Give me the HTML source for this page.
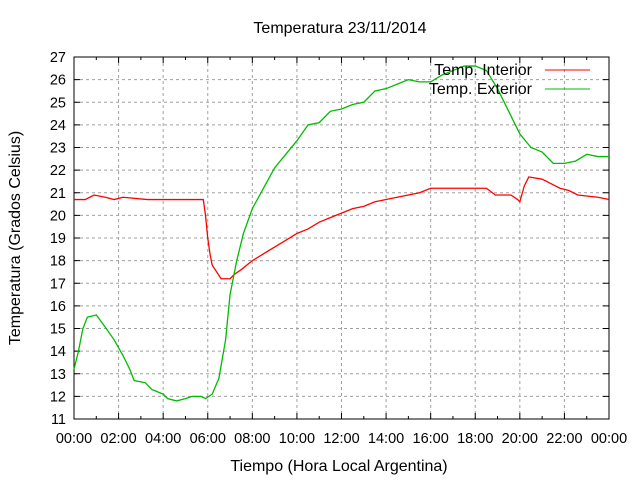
<!DOCTYPE html>
<html><head><meta charset="utf-8"><style>
html,body{margin:0;padding:0;background:#fff;}
svg{display:block;font-family:"Liberation Sans",sans-serif;}
</style></head><body>
<svg id="chart" width="640" height="480">
<text x="340" y="33" font-size="16" text-anchor="middle">Temperatura 23/11/2014</text>
<text x="339" y="471" font-size="16" text-anchor="middle">Tiempo (Hora Local Argentina)</text>
<text x="20" y="238" font-size="16" text-anchor="middle" transform="rotate(-90 20 238)">Temperatura (Grados Celsius)</text>
<g id="grid"></g><g id="axes"></g><g id="series"></g>
<g>
<text x="532" y="75" font-size="16" text-anchor="end">Temp. Interior</text>
<line x1="545" y1="70" x2="590" y2="70" stroke="#ff0000"/>
<text x="532" y="94" font-size="16" text-anchor="end">Temp. Exterior</text>
<line x1="545" y1="89" x2="590" y2="89" stroke="#00bb00"/>
</g>
</svg>
<script>
const interiorHours=[0,0.5,0.9,1.4,1.8,2.2,3.3,5.8,5.9,6.0,6.1,6.2,6.4,6.6,7.0,7.2,7.5,8.0,8.5,9.0,9.5,10.0,10.5,11.0,11.5,12.0,12.5,13.0,13.5,14.0,15.0,15.5,16.0,18.5,18.9,19.6,19.9,20.0,20.2,20.4,21.0,21.4,21.8,22.2,22.6,23.5,24];
const interiorValues=[20.7,20.7,20.9,20.8,20.7,20.8,20.7,20.7,20.0,19.0,18.3,17.8,17.5,17.2,17.2,17.4,17.6,18.0,18.3,18.6,18.9,19.2,19.4,19.7,19.9,20.1,20.3,20.4,20.6,20.7,20.9,21.0,21.2,21.2,20.9,20.9,20.7,20.6,21.3,21.7,21.6,21.4,21.2,21.1,20.9,20.8,20.7];
const exteriorHours=[0,0.2,0.4,0.6,1.0,1.3,1.8,2.2,2.5,2.7,3.2,3.5,4.0,4.2,4.6,5.0,5.3,5.7,5.9,6.2,6.5,6.8,7.0,7.3,7.6,8.0,8.5,9.0,9.5,10.0,10.5,11.0,11.5,12.0,12.5,13.0,13.5,14.0,14.5,15.0,15.5,16.0,16.5,17.0,17.5,18.0,18.5,19.0,19.5,20.0,20.5,21.0,21.5,22.0,22.5,23.0,23.5,24];
const exteriorValues=[13.2,14.0,15.0,15.5,15.6,15.2,14.5,13.8,13.2,12.7,12.6,12.3,12.1,11.9,11.8,11.9,12.0,12.0,11.9,12.1,12.8,14.5,16.5,18.0,19.2,20.3,21.2,22.1,22.7,23.3,24.0,24.1,24.6,24.7,24.9,25.0,25.5,25.6,25.8,26.0,25.9,25.9,26.2,26.4,26.6,26.6,26.4,25.6,24.6,23.6,23.0,22.8,22.3,22.3,22.4,22.7,22.6,22.6];
const yTicks=[11,12,13,14,15,16,17,18,19,20,21,22,23,24,25,26,27];
const xTickLabels=["00:00","02:00","04:00","06:00","08:00","10:00","12:00","14:00","16:00","18:00","20:00","22:00","00:00"];

const L=74,R=609,T=57,B=419,NS="http://www.w3.org/2000/svg";
const sx=h=>L+h/24*(R-L), sy=v=>B-(v-11)/16*(B-T);
function mk(tag,attrs,parent){const e=document.createElementNS(NS,tag);for(const k in attrs)e.setAttribute(k,attrs[k]);parent.appendChild(e);return e;}
const grid=document.getElementById('grid'),axes=document.getElementById('axes'),ser=document.getElementById('series');
yTicks.forEach((v,i)=>{
  const y=sy(v);
  if(i>0&&i<yTicks.length-1){const g=mk('line',{x1:L,x2:R,y1:y,y2:y,stroke:'#a0a0a0','stroke-dasharray':'3,3'},grid);
  
  }
  mk('line',{x1:L,x2:L+6,y1:y,y2:y,stroke:'#000'},axes);
  mk('line',{x1:R,x2:R-6,y1:y,y2:y,stroke:'#000'},axes);
  const t=mk('text',{x:L-8,y:y+5,'font-size':14.5,'text-anchor':'end'},axes);t.textContent=v;
  
  
});
for(let h=0;h<=24;h++){
  const x=sx(h);
  if(h%2===0&&h>0&&h<24){const g=mk('line',{x1:x,x2:x,y1:T,y2:B,stroke:'#a0a0a0','stroke-dasharray':'3,3'},grid);
  
  }
  const len=h%2===0?6:3;
  mk('line',{x1:x,x2:x,y1:B,y2:B-len,stroke:'#000'},axes);
  mk('line',{x1:x,x2:x,y1:T,y2:T+len,stroke:'#000'},axes);
}
xTickLabels.forEach((s,i)=>{const t=mk('text',{x:sx(i*2),y:B+24,'font-size':14.5,'text-anchor':'middle'},axes);t.textContent=s;
  
  });
const box=mk('rect',{x:L,y:T,width:R-L,height:B-T,fill:'none',stroke:'#000'},axes);


function linePath(hs,vs){let d='M'+sx(hs[0])+','+sy(vs[0]);for(let i=1;i<hs.length;i++){d+=' L'+sx(hs[i])+','+sy(vs[i]);}return d;}
const pi=mk('path',{d:linePath(interiorHours,interiorValues),fill:'none',stroke:'#ff0000','stroke-width':1.3},ser);


const pe=mk('path',{d:linePath(exteriorHours,exteriorValues),fill:'none',stroke:'#00bb00','stroke-width':1.3},ser);


</script>
</body></html>
